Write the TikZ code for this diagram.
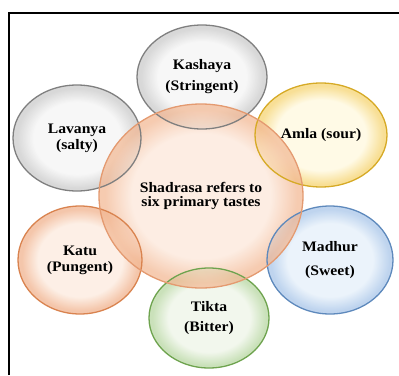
\documentclass[tikz,border=0pt]{standalone}
\usepackage{fontspec}
\newfontfamily\lblfont{Liberation Serif}[FakeStretch=1.08]
\usetikzlibrary{shapes.geometric}
\definecolor{glin}{HTML}{F4F4F4}
\definecolor{glout}{HTML}{C8C8C8}
\pgfdeclareradialshading[glin,glout]{gloss}{\pgfpoint{0bp}{0bp}}{color(0bp)=(glin); color(17bp)=(glin); color(23.5bp)=(glout); color(25bp)=(glout); color(50bp)=(glout)}
\begin{document}
\begin{tikzpicture}[x=1pt,y=-1pt,
  bub/.style n args={2}{ellipse, inner sep=0pt, /utils/exec={\colorlet{glin}{#1}\colorlet{glout}{#2}}, shading=gloss, fill opacity=0.72},
  lbl/.style={font=\lblfont\bfseries\fontsize{14.5}{16}\selectfont, align=center, text=black},
  ring/.style={line width=1.3pt}]
\useasboundingbox (0,0) rectangle (399,375);
\draw[line width=1.5pt] (9,375) -- (9,13) -- (399,13);
% fills
\foreach \n/\x/\y/\w/\h/\ci/\co in {
  kashaya/202/77/130/104/F4F4F4/C9C9C9,
  lavanya/77/138/128/106/F4F4F4/C9C9C9,
  amla/321/135/132/104/FFF8DC/F5D36E,
  katu/80/260/124/108/FCE9DC/F0B08A,
  madhur/330/260/126/108/E3EEF9/A6C4E8,
  tikta/209/318/120/100/EDF4E6/B6D6A0,
  centre/201/196/204/184/FCE6D8/F2B792}
{
  \definecolor{tmpin}{HTML}{\ci}\definecolor{tmpout}{HTML}{\co}
  \node[bub={tmpin}{tmpout}, minimum width=\w, minimum height=\h, shade] (\n) at (\x,\y) {};
}
% borders
\foreach \n/\w/\h/\cb in {
  kashaya/130/104/7F7F7F,
  lavanya/128/106/7F7F7F,
  amla/132/104/D6AA26,
  katu/124/108/D9834F,
  madhur/126/108/5E89BC,
  tikta/120/100/6EA34E,
  centre/204/184/E49A70}
{
  \definecolor{tmpb}{HTML}{\cb}
  \draw[ring, tmpb] (\n.center) ellipse [x radius=\w/2, y radius=\h/2];
}
% labels
\node[lbl] (tk) at (kashaya) {Kashaya\\[5pt](Stringent)};
\node[lbl] (tl) at (lavanya) {Lavanya\\[0pt](salty)};
\node[lbl] (ta) at (amla) {Amla (sour)};
\node[lbl] (tka) at (katu) {Katu\\[0pt](Pungent)};
\node[lbl] (tm) at (madhur) {Madhur\\[8pt](Sweet)};
\node[lbl] (tt) at (tikta) {Tikta\\[4pt](Bitter)};
\node[lbl, font=\lblfont\bfseries\fontsize{14.5}{14}\selectfont] (tc) at (centre) {Shadrasa refers to\\six primary tastes};
\end{tikzpicture}
\end{document}
